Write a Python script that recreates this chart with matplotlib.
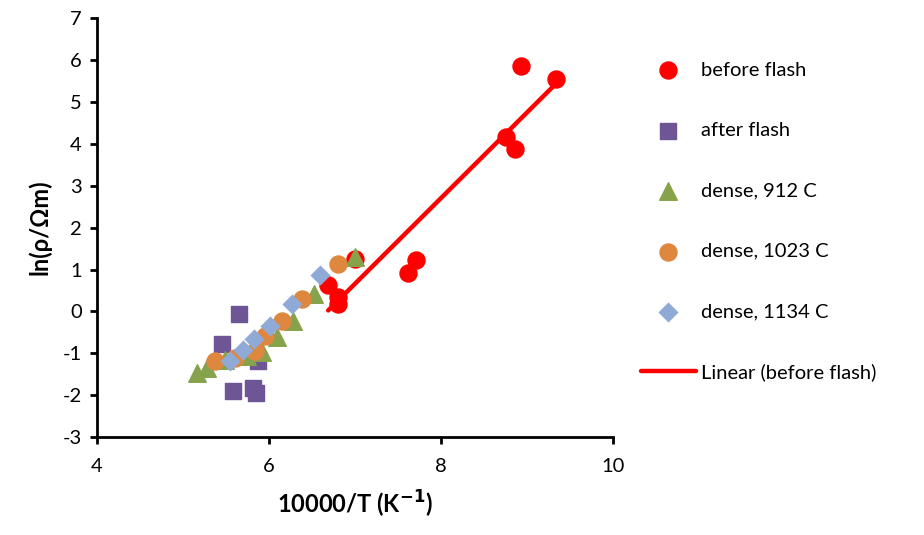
import matplotlib.pyplot as plt
import numpy as np

plt.rcParams['font.family'] = ['Lato', 'DejaVu Sans']
plt.rcParams['axes.unicode_minus'] = False

# Data points
before_x = [6.69, 6.80, 6.81, 7.00, 7.62, 7.71, 8.76, 8.86, 8.93, 9.34]
before_y = [0.62, 0.18, 0.35, 1.25, 0.91, 1.22, 4.17, 3.88, 5.85, 5.54]

after_x = [5.65, 5.45, 5.87, 5.58, 5.81, 5.85]
after_y = [-0.07, -0.77, -1.18, -1.89, -1.82, -1.94]

d912_x = [5.16, 5.28, 5.49, 5.74, 5.92, 6.09, 6.28, 6.53, 7.00]
d912_y = [-1.46, -1.34, -1.15, -1.06, -0.98, -0.62, -0.22, 0.41, 1.30]

d1023_x = [5.37, 5.60, 5.84, 5.95, 6.15, 6.38, 6.80]
d1023_y = [-1.18, -1.10, -0.94, -0.58, -0.22, 0.29, 1.13]

d1134_x = [5.55, 5.70, 5.83, 6.01, 6.27, 6.59]
d1134_y = [-1.18, -0.91, -0.67, -0.34, 0.17, 0.86]

# Linear fit of before-flash data
a1, a0 = np.polyfit(before_x, before_y, 1)
x_fit = np.linspace(min(before_x), max(before_x), 50)
y_fit = a0 + a1 * x_fit

fig = plt.figure(figsize=(9.24, 5.35), dpi=100)
ax = fig.add_axes([0.105, 0.183, 0.558, 0.783])

ax.scatter(before_x, before_y, s=150, marker='o', color='#FF0000', label='before flash', zorder=2)
ax.scatter(after_x, after_y, s=130, marker='s', color='#6E5696', label='after flash', zorder=3)
ax.scatter(d912_x, d912_y, s=160, marker='^', color='#86A34C', label='dense, 912 C', zorder=4)
ax.scatter(d1023_x, d1023_y, s=150, marker='o', color='#DE873F', label='dense, 1023 C', zorder=5)
ax.scatter(d1134_x, d1134_y, s=105, marker='D', color='#8FAAD6', label='dense, 1134 C', zorder=6,
           linewidths=0)
ax.plot(x_fit, y_fit, color='#FF0000', lw=3.2, solid_capstyle='round', label='Linear (before flash)', zorder=7)

ax.set_xlim(4, 10)
ax.set_ylim(-3, 7)
ax.set_xticks([4, 6, 8, 10])
ax.set_yticks(range(-3, 8))
ax.spines['top'].set_visible(False)
ax.spines['right'].set_visible(False)
for s in ['left', 'bottom']:
    ax.spines[s].set_linewidth(2)
ax.tick_params(direction='out', length=5, width=2, labelsize=14.5)
ax.tick_params(axis='x', pad=10)
ax.tick_params(axis='y', pad=6)

ax.set_xlabel('10000/T (K$^{\\mathbf{-1}}$)', fontsize=17, fontweight='bold', labelpad=10)
ax.set_ylabel('ln(ρ/Ωm)', fontsize=17, fontweight='bold', labelpad=8)

fig.legend(loc='upper left', bbox_to_anchor=(0.694, 0.885), frameon=False, fontsize=14.5,
           labelspacing=2.15, handlelength=2.7, handletextpad=0.25, borderaxespad=0, borderpad=0)

fig.savefig('out.png', dpi=100)
